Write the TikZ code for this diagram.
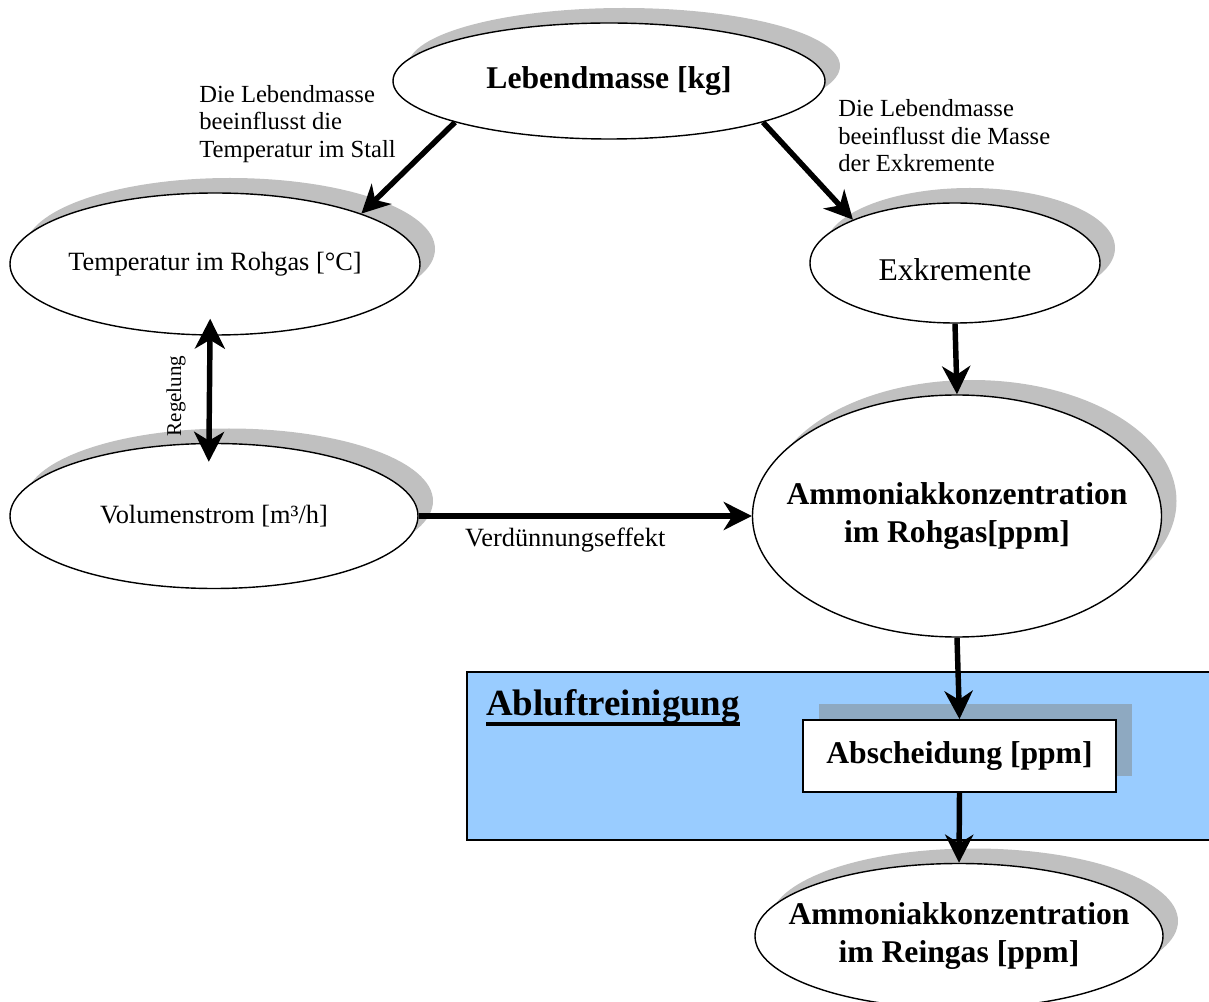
\documentclass[tikz,border=0pt]{standalone}
\usepackage{fontspec}
\setmainfont{Liberation Serif}
\usepackage{tikz}
\usetikzlibrary{shapes.geometric,shadows,arrows.meta}

\definecolor{shadowgray}{RGB}{192,192,192}
\definecolor{boxblue}{RGB}{153,204,255}
\definecolor{boxshadow}{RGB}{142,169,193}

% zero-width line so the ellipse keeps its given size
\newcommand{\zw}[1]{\makebox[0pt]{#1}}

\begin{document}
\begin{tikzpicture}[main_node/.style={ellipse,draw,line width=0.8pt,fill=white,inner sep=0pt,align=center,
		drop shadow={shadow xshift=0.3cm,shadow yshift=0.3cm,fill=shadowgray,opacity=1}},
	bold_text/.style={font=\bfseries\fontsize{18}{21.6}\selectfont},
	plain_text/.style={font=\fontsize{15}{18}\selectfont},
	small_text/.style={font=\fontsize{14}{15.6}\selectfont,align=left,inner sep=0pt},
	thick_arrow/.style={line width=3.1pt,-{Stealth[length=16pt,width=16pt,inset=5pt]}},
	both_arrow/.style={line width=3.1pt,{Stealth[length=17pt,width=17pt,inset=5pt]}-{Stealth[length=17pt,width=17pt,inset=5pt]}}]

	\useasboundingbox (0,0) rectangle (24.18,-20.04);

	% Abluftreinigung
	\draw[fill=boxblue,line width=0.8pt] (9.34,-13.44) rectangle (24.4,-16.8);

	\node[main_node, bold_text, minimum width=8.64cm, minimum height=2.32cm] (1) at (12.18, -1.62) {\zw{Lebendmasse [kg]}};
	\node[main_node, plain_text, minimum width=8.2cm, minimum height=2.84cm] (2) at (4.30, -5.28) {\zw{Temperatur im Rohgas [°C]}};
	\node[main_node, font=\fontsize{18}{21.6}\selectfont, minimum width=5.8cm, minimum height=2.4cm, text height=0.72cm] (3) at (19.10, -5.26) {\zw{Exkremente}};
	\node[main_node, plain_text, minimum width=8.16cm, minimum height=2.9cm] (4) at (4.28, -10.32) {\zw{Volumenstrom [m³/h]}};
	\node[main_node, bold_text, minimum width=8.18cm, minimum height=4.84cm] (5) at (19.14, -10.32) {\zw{Ammoniakkonzentration}\\\zw{im Rohgas[ppm]}};
	\node[rectangle, draw, line width=1pt, fill=white, bold_text, minimum width=6.26cm, minimum height=1.44cm,
		drop shadow={shadow xshift=0.32cm,shadow yshift=0.32cm,fill=boxshadow,opacity=1}] (6) at (19.19, -15.12) {Abscheidung [ppm]};
	\node[main_node, bold_text, minimum width=8.16cm, minimum height=2.9cm] (7) at (19.18, -18.72) {\zw{Ammoniakkonzentration}\\\zw{im Reingas [ppm]}};

	\node[anchor=base west, inner sep=0pt, font=\bfseries\fontsize{21}{25}\selectfont] (8) at (9.72, -14.3) {Abluftreinigung};
	\draw[line width=2.2pt] ([yshift=-0.18cm]8.base west) -- ([yshift=-0.18cm]8.base east);

	\node[small_text, anchor=west] (9) at (3.98, -2.48) {Die Lebendmasse\\beeinflusst die\\Temperatur im Stall};
	\node[small_text, anchor=west] (10) at (16.76, -2.72) {Die Lebendmasse\\beeinflusst die Masse\\der Exkremente};
	\node[rotate=90, font=\fontsize{12}{14}\selectfont] (11) at (3.52, -7.92) {Regelung};

	\draw[thick_arrow] (1.195) -- (2.19);
	\draw[thick_arrow] (1.345) -- (3.157);
	\draw[both_arrow, shorten <=-0.34cm, shorten >=-0.38cm] ([xshift=-0.1cm]2.south) -- ([xshift=-0.1cm]4.north);
	\draw[thick_arrow] (3.south) -- (5.north);
	\draw[thick_arrow] (4) -- node[pos=0.44, below=2pt, plain_text] {Verdünnungseffekt} (5);
	\draw[thick_arrow] (5.south) -- (6.north);
	\draw[thick_arrow] (6.south) -- (7.north);

\end{tikzpicture}
\end{document}
